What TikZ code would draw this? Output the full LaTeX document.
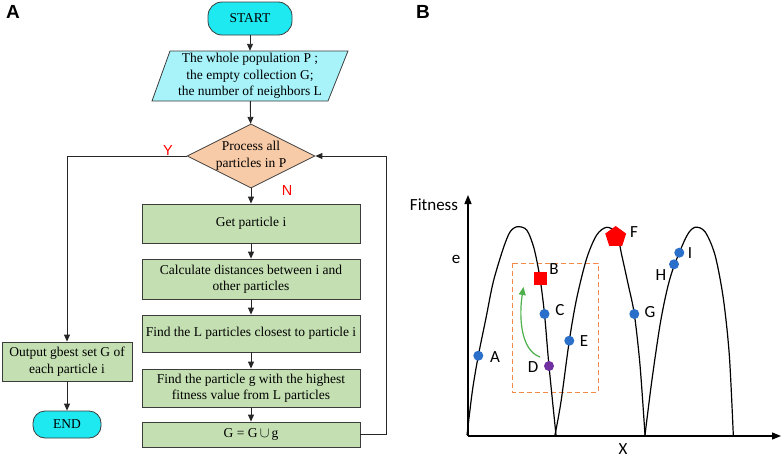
\documentclass[tikz,border=0pt]{standalone}
\usepackage{fontspec}
\setmainfont{Liberation Serif}
\newfontfamily\arialf{Liberation Sans}
\newfontfamily\calf{Carlito}
\usetikzlibrary{arrows.meta,shapes.geometric}
\definecolor{termfill}{HTML}{1EE8F0}
\definecolor{iofill}{HTML}{A8F3FA}
\definecolor{decfill}{HTML}{F8CBA8}
\definecolor{boxfill}{HTML}{C4E0B2}
\definecolor{edgecol}{HTML}{3C3C3C}
\definecolor{dotblue}{HTML}{2A6FC9}
\definecolor{dotpurple}{HTML}{7030A0}
\definecolor{rectorange}{HTML}{F4894A}
\definecolor{arrgreen}{HTML}{4DB04A}
\tikzset{
  flowtext/.style={font=\fontsize{13.5}{16.5}\selectfont, align=center},
  term/.style={flowtext, draw=edgecol, line width=0.8pt, fill=termfill, rounded corners=14pt, inner sep=0pt},
  procbox/.style={flowtext, draw=edgecol, line width=0.8pt, fill=boxfill, inner sep=1pt, minimum width=218pt},
  decbox/.style={flowtext, draw=edgecol, line width=0.8pt, fill=decfill, diamond, aspect=2, inner sep=0pt, minimum width=128pt, minimum height=62pt},
  conn/.style={draw=black!85, line width=0.9pt, -{Triangle[length=7pt,width=6pt]}},
  yn/.style={font=\arialf\fontsize{14.5}{16}\selectfont, text=red},
  panel/.style={font=\arialf\bfseries\fontsize{19}{21}\selectfont},
  blbl/.style={font=\calf\fontsize{17}{19}\selectfont},
  hump/.style={line width=1.2pt, black},
  bdot/.style={circle, fill=dotblue, minimum size=10pt, inner sep=0pt},
}
\begin{document}
\begin{tikzpicture}[x=1pt,y=-1pt]
\useasboundingbox (0,0) rectangle (782,458);
% ---------- Panel A ----------
\node[panel] (la) at (13,12) {A};
\node[term, minimum width=84pt, minimum height=33pt] (start) at (250,18.5) {START};
\fill[iofill] (170,51) -- (348,51) -- (328,101) -- (152,101) -- cycle;
\draw[edgecol, line width=0.8pt] (170,51) -- (348,51) -- (328,101) -- (152,101) -- cycle;
\node[flowtext, minimum width=160pt, minimum height=50pt, inner sep=0pt] (input) at (250,76)
  {The whole population P ;\\ the empty collection G;\\ the number of neighbors L};
\node[decbox] (dec) at (251,156) {Process all\\ particles in P};
\node[procbox, minimum height=39pt] (get) at (251,223.5) {Get particle i};
\node[procbox, minimum height=40pt] (calc) at (251,279) {Calculate distances between i and\\ other particles};
\node[procbox, minimum height=37pt] (findL) at (251,333.5) {Find the L particles closest to particle i};
\node[procbox, minimum height=38pt] (findg) at (251,388) {Find the particle g with the highest\\ fitness value from L particles};
\node[procbox, minimum height=25pt] (gg) at (251,434.5) {G = G\,$\cup$\,g};
\node[procbox, minimum width=130pt, minimum height=39pt] (out) at (67,361.5) {Output gbest set G of\\ each particle i};
\node[term, minimum width=68pt, minimum height=27pt, rounded corners=12pt] (endn) at (67,424.5) {END};
\node[yn] (ylab) at (168,151) {Y};
\node[yn] (nlab) at (287,191) {N};
\coordinate (loopx) at (386,0);
\draw[conn] (start) -- (input);
\draw[conn] (input) -- (dec);
\draw[conn] (dec) -- (get);
\draw[conn] (get) -- (calc);
\draw[conn] (calc) -- (findL);
\draw[conn] (findL) -- (findg);
\draw[conn] (findg) -- (gg);
\draw[conn] (gg.east) -- (gg.east -| loopx) |- (dec.east);
\draw[conn] (dec.west) -| (out.north);
\draw[conn] (out) -- (endn);
% ---------- Panel B ----------
\node[panel] (lb) at (423,12) {B};
\coordinate (orig) at (468,436);
\coordinate (ytop) at (468,195);
\coordinate (xend) at (781,436);
\draw[line width=1.3pt, -{Triangle[length=9pt,width=7pt]}] (orig) -- (ytop);
\draw[line width=1.3pt, -{Triangle[length=9pt,width=7pt]}] (orig) -- (xend);
\node[blbl] (fit) at (434,205) {Fitness};
\node[blbl] (elab) at (456,259) {e};
\node[blbl, inner sep=1pt] (xlab) at (623,449) {X};
\draw[rectorange, line width=1pt, dash pattern=on 5pt off 3pt] (512,263) rectangle (598,392);
\draw[hump] plot[smooth, tension=0.5] coordinates {(467,435) (472.5,390) (478.3,355.7) (486,318) (493.3,281.7) (503.3,248.3) (510,232) (517.3,226.7) (526.7,230) (534,248.3) (540,278.3) (544.5,314) (549,366) (556,435)};
\draw[hump] plot[smooth, tension=0.5] coordinates {(555,435) (561,401.7) (569.3,340.7) (576.7,298.3) (586.7,258.3) (596.7,235) (606.7,227.3) (616.7,233.3) (621.7,255) (628.3,285) (634.3,314) (640,365) (645,435)};
\draw[hump] plot[smooth, tension=0.5] coordinates {(645,435) (651.7,381.7) (660,325) (667,290) (674,266) (686.7,236) (695,227.3) (705,231.7) (715,255) (723.3,298.3) (729.3,355) (733.3,435)};
\coordinate (gstart) at (540,357);
\coordinate (gend) at (523.5,287);
\draw[arrgreen, line width=1.2pt, -{Triangle[length=8pt,width=7pt]}] (gstart) .. controls (520,350) and (519,315) .. (gend);
\node[bdot] (pa) at (478.3,355.7) {};
\node[fill=red, minimum size=13pt, inner sep=0pt] (pb) at (540,278.3) {};
\node[bdot] (pc) at (544.5,314) {};
\node[circle, fill=dotpurple, minimum size=10pt, inner sep=0pt] (pd) at (549,366) {};
\node[bdot] (pe) at (569.3,340.7) {};
\node[regular polygon, regular polygon sides=5, fill=red, minimum size=22pt, inner sep=0pt] (pf) at (615.7,237) {};
\node[bdot] (pg) at (634.3,314) {};
\node[bdot] (ph) at (674,264.3) {};
\node[bdot] (pi) at (679.3,252.7) {};
\node[blbl] at (495,357) {A};
\node[blbl] at (554,269) {B};
\node[blbl] at (560,310) {C};
\node[blbl] at (533,367) {D};
\node[blbl] at (584,341) {E};
\node[blbl] at (634,232) {F};
\node[blbl] at (650,312) {G};
\node[blbl] at (661,275) {H};
\node[blbl] at (690,253) {I};
\end{tikzpicture}
\end{document}
